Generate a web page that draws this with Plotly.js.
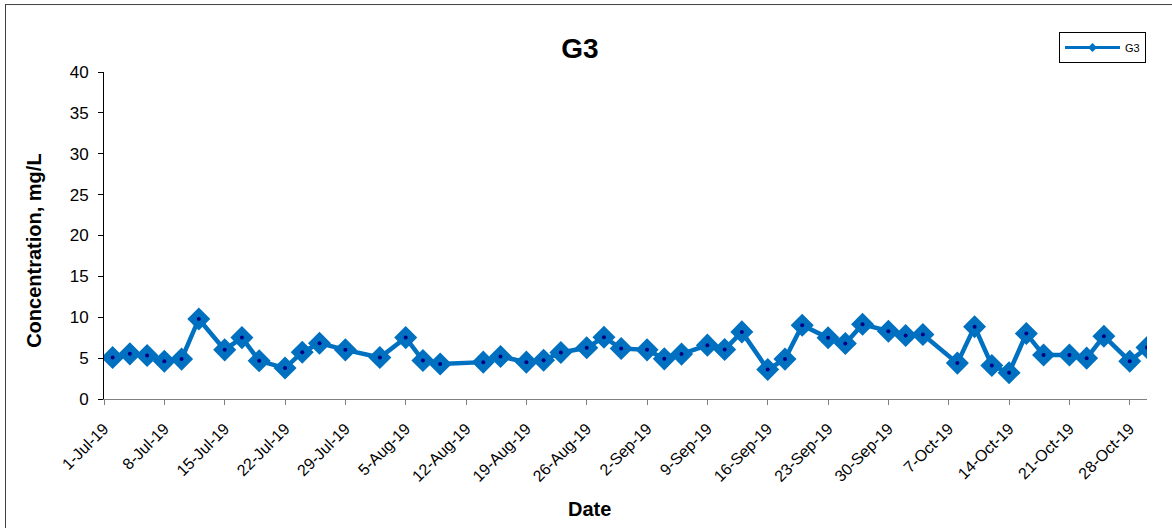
<!DOCTYPE html>
<html>
<head>
<meta charset="utf-8">
<script src="https://cdn.plot.ly/plotly-3.0.1.min.js"></script>
<style>html,body{margin:0;padding:0;background:#fff;}#chart{width:1172px;height:528px;}</style>
</head>
<body>
<div id="chart"></div>
<script>
const seriesName = "G3";
const chartTitle = "G3";
const xTitle = "Date";
const yTitle = "Concentration, mg/L";
const dates = [
  "2019-07-02","2019-07-04","2019-07-06","2019-07-08","2019-07-10","2019-07-12",
  "2019-07-15","2019-07-17","2019-07-19","2019-07-22","2019-07-24","2019-07-26",
  "2019-07-29","2019-08-02","2019-08-05","2019-08-07","2019-08-09","2019-08-14",
  "2019-08-16","2019-08-19","2019-08-21","2019-08-23","2019-08-26","2019-08-28",
  "2019-08-30","2019-09-02","2019-09-04","2019-09-06","2019-09-09","2019-09-11",
  "2019-09-13","2019-09-16","2019-09-18","2019-09-20","2019-09-23","2019-09-25",
  "2019-09-27","2019-09-30","2019-10-02","2019-10-04","2019-10-08","2019-10-10",
  "2019-10-12","2019-10-14","2019-10-16","2019-10-18","2019-10-21","2019-10-23",
  "2019-10-25","2019-10-28","2019-10-30"
];
const concentration = [
  5.07, 5.52, 5.32, 4.63, 4.88, 9.79,
  6.01, 7.51, 4.67, 3.78, 5.73, 6.83,
  6.01, 5.07, 7.51, 4.71, 4.27, 4.51,
  5.2, 4.51, 4.75, 5.69, 6.26, 7.56,
  6.17, 6.01, 4.91, 5.49, 6.59, 6.05,
  8.21, 3.61, 4.88, 9.02, 7.48, 6.78,
  9.14, 8.29, 7.76, 7.88, 4.39, 8.85,
  4.1, 3.21, 8.0, 5.37, 5.37, 5.0,
  7.68, 4.63, 6.29
];
const xRange = ["2019-07-01", "2019-10-30"];
const yRange = [0, 40];

const L = 104, R = 1147, T = 72, B = 399.3;
const px2x = p => (p - L) / (R - L);
const px2y = p => (B - p) / (B - T);

const traces = [
  {
    x: dates, y: concentration, name: seriesName, type: "scatter", mode: "lines+markers",
    line: {color: "#0070C0", width: 4.5},
    marker: {symbol: "diamond", size: 15, color: "#0070C0", line: {color: "#0070C0", width: 2.5}},
    showlegend: false
  },
  {
    x: dates, y: concentration, type: "scatter", mode: "markers",
    marker: {symbol: "circle", size: 4, color: "#000080"},
    showlegend: false, hoverinfo: "skip"
  },
  {
    x: [null], y: [null], name: seriesName, type: "scatter", mode: "lines+markers",
    line: {color: "#0070C0", width: 3},
    marker: {symbol: "diamond", size: 7, color: "#0070C0"},
    showlegend: true
  }
];

const layout = {
  width: 1172, height: 528,
  margin: {l: L, r: 1172 - R, t: T, b: 528 - B, pad: 0},
  paper_bgcolor: "#fff", plot_bgcolor: "#fff",
  font: {family: "Liberation Sans, Arial, sans-serif", color: "#000"},
  title: {text: "<b>" + chartTitle + "</b>", font: {size: 28, color: "#000"}, x: 580/1172, xanchor: "center",
          y: 1 - 48/528, yanchor: "middle", xref: "container", yref: "container"},
  xaxis: {
    type: "date", range: xRange, tick0: "2019-07-01", dtick: 7*86400000,
    tickformat: "%-d-%b-%y", tickangle: -45, ticks: "outside", ticklen: 5, tickcolor: "#808080",
    ticklabelstandoff: 8,
    showline: true, linecolor: "#808080", linewidth: 1, showgrid: false, zeroline: false,
    tickfont: {size: 16, color: "#000"},
    automargin: false, fixedrange: true
  },
  yaxis: {
    range: yRange, dtick: 5, tick0: 0, ticks: "outside", ticklen: 5, tickcolor: "#000",
    ticklabelstandoff: 6,
    showline: true, linecolor: "#000", linewidth: 1, showgrid: false, zeroline: false,
    tickfont: {size: 17, color: "#000"},
    automargin: false, fixedrange: true
  },
  annotations: [
    {text: "<b>" + xTitle + "</b>", xref: "paper", yref: "paper", x: px2x(589), y: px2y(509),
     xanchor: "center", yanchor: "middle", showarrow: false, font: {size: 20, color: "#000"}},
    {text: "<b>" + yTitle + "</b>", xref: "paper", yref: "paper", x: px2x(34), y: px2y(251),
     xanchor: "center", yanchor: "middle", textangle: -90, showarrow: false, font: {size: 20, color: "#000"}}
  ],
  legend: {
    x: px2x(1059), y: px2y(32), xanchor: "left", yanchor: "top",
    bordercolor: "#000", borderwidth: 1, bgcolor: "#fff",
    font: {size: 11, color: "#000"}, itemwidth: 55, tracegroupgap: 0
  },
  shapes: [
    {type: "line", xref: "paper", yref: "paper", x0: px2x(5.5), x1: px2x(5.5), y0: px2y(4), y1: px2y(540), line: {color: "#404040", width: 1}},
    {type: "line", xref: "paper", yref: "paper", x0: px2x(5.5), x1: px2x(1180), y0: px2y(4.5), y1: px2y(4.5), line: {color: "#404040", width: 1}}
  ],
  showlegend: true
};

Plotly.newPlot("chart", traces, layout, {displayModeBar: false, staticPlot: true});
</script>
</body>
</html>
